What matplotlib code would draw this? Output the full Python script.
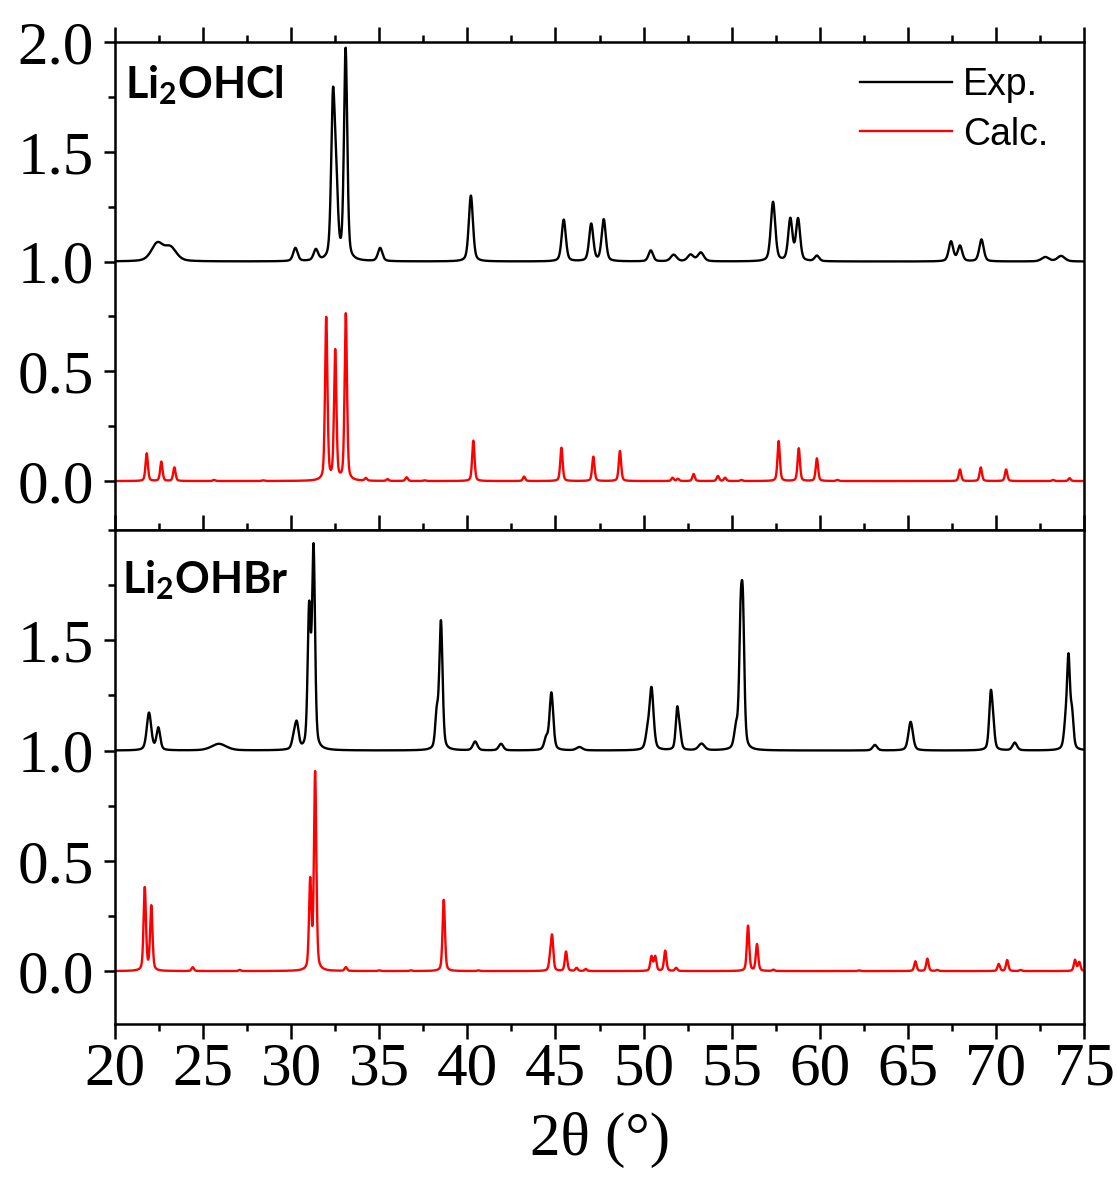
import numpy as np
import matplotlib
matplotlib.use("Agg")
import matplotlib.pyplot as plt
from matplotlib.ticker import MultipleLocator

plt.rcParams['font.family'] = ['Liberation Serif', 'DejaVu Serif']

# peak lists: position (deg), height above baseline, FWHM (deg)
cl_exp_pos = [22.4, 23.15, 30.24, 31.4, 32.37, 32.55, 33.09, 35.05, 40.2, 45.47, 47.03, 47.74,
              50.41, 51.71, 52.67, 53.25, 57.35, 58.33, 58.77, 59.84, 67.45, 67.96, 69.18, 72.8, 73.7]
cl_exp_h = [0.08, 0.06, 0.06, 0.05, 0.70, 0.32, 0.96, 0.06, 0.30, 0.19, 0.17, 0.19,
            0.05, 0.03, 0.03, 0.04, 0.27, 0.19, 0.19, 0.025, 0.09, 0.07, 0.10, 0.02, 0.025]
cl_exp_w = [0.8, 0.8, 0.3, 0.3, 0.24, 0.24, 0.22, 0.3, 0.28, 0.28, 0.28, 0.28,
            0.3, 0.4, 0.4, 0.4, 0.3, 0.28, 0.28, 0.3, 0.3, 0.3, 0.3, 0.5, 0.5]

cl_calc_pos = [21.80, 22.63, 23.37, 25.62, 28.4, 31.99, 32.5, 33.1, 34.24, 35.47, 36.55, 37.56,
               40.34, 43.22, 45.34, 47.15, 48.66, 51.65, 51.95, 52.84, 54.22, 54.63, 55.56,
               57.67, 58.81, 59.84, 61.0, 67.96, 69.14, 70.58, 73.25, 74.18]
cl_calc_h = [0.126, 0.088, 0.062, 0.005, 0.003, 0.741, 0.589, 0.759, 0.012, 0.008, 0.017, 0.003,
             0.184, 0.02, 0.152, 0.111, 0.137, 0.015, 0.01, 0.032, 0.023, 0.015, 0.005,
             0.182, 0.149, 0.103, 0.005, 0.053, 0.062, 0.053, 0.005, 0.013]

br_exp_pos = [21.93, 22.46, 25.9, 30.15, 30.32, 31.02, 31.27, 38.26, 38.5, 40.44, 41.91, 44.47,
              44.77, 46.36, 50.21, 50.45, 51.91, 52.06, 53.29, 55.25, 55.51, 55.64, 63.13, 65.16,
              69.71, 69.85, 71.07, 73.95, 74.12, 74.32]
br_exp_h = [0.17, 0.10, 0.03, 0.05, 0.11, 0.62, 0.90, 0.15, 0.58, 0.04, 0.03, 0.05,
            0.26, 0.015, 0.06, 0.28, 0.18, 0.07, 0.03, 0.09, 0.50, 0.55, 0.025, 0.13,
            0.25, 0.08, 0.035, 0.10, 0.40, 0.15]
br_exp_w = [0.3, 0.25, 1.0, 0.25, 0.25, 0.2, 0.2, 0.2, 0.22, 0.3, 0.3, 0.25,
            0.25, 0.4, 0.25, 0.28, 0.2, 0.2, 0.4, 0.25, 0.2, 0.2, 0.3, 0.3,
            0.22, 0.2, 0.3, 0.22, 0.2, 0.2]

br_calc_pos = [21.69, 22.06, 24.41, 27.08, 31.08, 31.36, 33.1, 35.0, 36.8, 38.66, 40.63, 44.7,
               44.81, 45.6, 46.2, 46.72, 50.45, 50.66, 51.23, 51.85, 55.93, 56.44, 57.37, 62.24,
               65.43, 66.11, 66.67, 70.16, 70.64, 71.4, 74.49, 74.73]
br_calc_h = [0.376, 0.292, 0.017, 0.005, 0.399, 0.895, 0.017, 0.003, 0.003, 0.323, 0.003, 0.05,
             0.15, 0.088, 0.014, 0.009, 0.065, 0.065, 0.092, 0.014, 0.205, 0.121, 0.006, 0.003,
             0.044, 0.056, 0.005, 0.032, 0.05, 0.005, 0.05, 0.04]

x_ticks = [20, 25, 30, 35, 40, 45, 50, 55, 60, 65, 70, 75]


def pattern(x, pos, h, w, base=0.0):
    y = np.full_like(x, base)
    if np.isscalar(w):
        w = [w] * len(pos)
    for p, a, fw in zip(pos, h, w):
        g = np.exp(-4 * np.log(2) * ((x - p) / fw) ** 2)
        l = 1 / (1 + 4 * ((x - p) / fw) ** 2)
        y += a * (0.6 * g + 0.4 * l)
    return y


x = np.linspace(20, 75, 5501)

fig = plt.figure(figsize=(11.17, 11.81), dpi=100)
ax1 = fig.add_axes([115 / 1117, 1 - 530 / 1181, 969 / 1117, 488 / 1181])
ax2 = fig.add_axes([115 / 1117, 1 - 1024 / 1181, 969 / 1117, 494 / 1181])

ax1.plot(x, pattern(x, cl_exp_pos, cl_exp_h, cl_exp_w, 1.0), color='black', lw=1.7, label='Exp.')
ax1.plot(x, pattern(x, cl_calc_pos, cl_calc_h, 0.16), color='red', lw=1.7, label='Calc.')
ax2.plot(x, pattern(x, br_exp_pos, br_exp_h, br_exp_w, 1.0), color='black', lw=1.7)
ax2.plot(x, pattern(x, br_calc_pos, br_calc_h, 0.16), color='red', lw=1.7)

ax1.set_ylim(-0.223, 2.0)
ax2.set_ylim(-0.24, 2.0)

for ax in (ax1, ax2):
    ax.set_xlim(20, 75)
    ax.set_xticks(x_ticks)
    ax.xaxis.set_minor_locator(MultipleLocator(2.5))
    ax.set_yticks([0.0, 0.5, 1.0, 1.5, 2.0] if ax is ax1 else [0.0, 0.5, 1.0, 1.5])
    ax.yaxis.set_minor_locator(MultipleLocator(0.25))
    ax.yaxis.set_major_formatter(matplotlib.ticker.FormatStrFormatter('%.1f'))
    for s in ax.spines.values():
        s.set_linewidth(1.8)
    ax.tick_params(axis='y', which='both', direction='out', left=True, right=False,
                   width=1.8, labelsize=44, pad=7)
    ax.tick_params(axis='y', which='major', length=8)
    ax.tick_params(axis='y', which='minor', length=5)
    ax.tick_params(axis='x', which='major', length=11, width=1.8)
    ax.tick_params(axis='x', which='minor', length=5, width=1.8)

ax1.tick_params(axis='x', which='both', direction='out', top=True, bottom=False,
                labelbottom=False, labeltop=False)
ax2.tick_params(axis='x', which='both', direction='out', top=True, bottom=True,
                labelbottom=True, labelsize=44, pad=2)
ax2.set_xlabel('2θ (°)', fontsize=44, labelpad=10)

ax1.text(0.01, 0.885, 'Li$_\\mathregular{2}$OHCl', transform=ax1.transAxes,
         fontfamily=['Lato', 'DejaVu Sans'], fontweight='bold', fontsize=31, va='baseline')
ax2.text(0.007, 0.872, 'Li$_\\mathregular{2}$OHBr', transform=ax2.transAxes,
         fontfamily=['Lato', 'DejaVu Sans'], fontweight='bold', fontsize=31, va='baseline')

ax1.legend(loc='upper right', bbox_to_anchor=(0.963, 0.948), frameon=False,
           prop={'family': ['Liberation Sans', 'DejaVu Sans'], 'size': 27},
           borderpad=0, borderaxespad=0, handlelength=2.45, handletextpad=0.3,
           labelspacing=0.35)

plt.savefig('out.png', dpi=100)
